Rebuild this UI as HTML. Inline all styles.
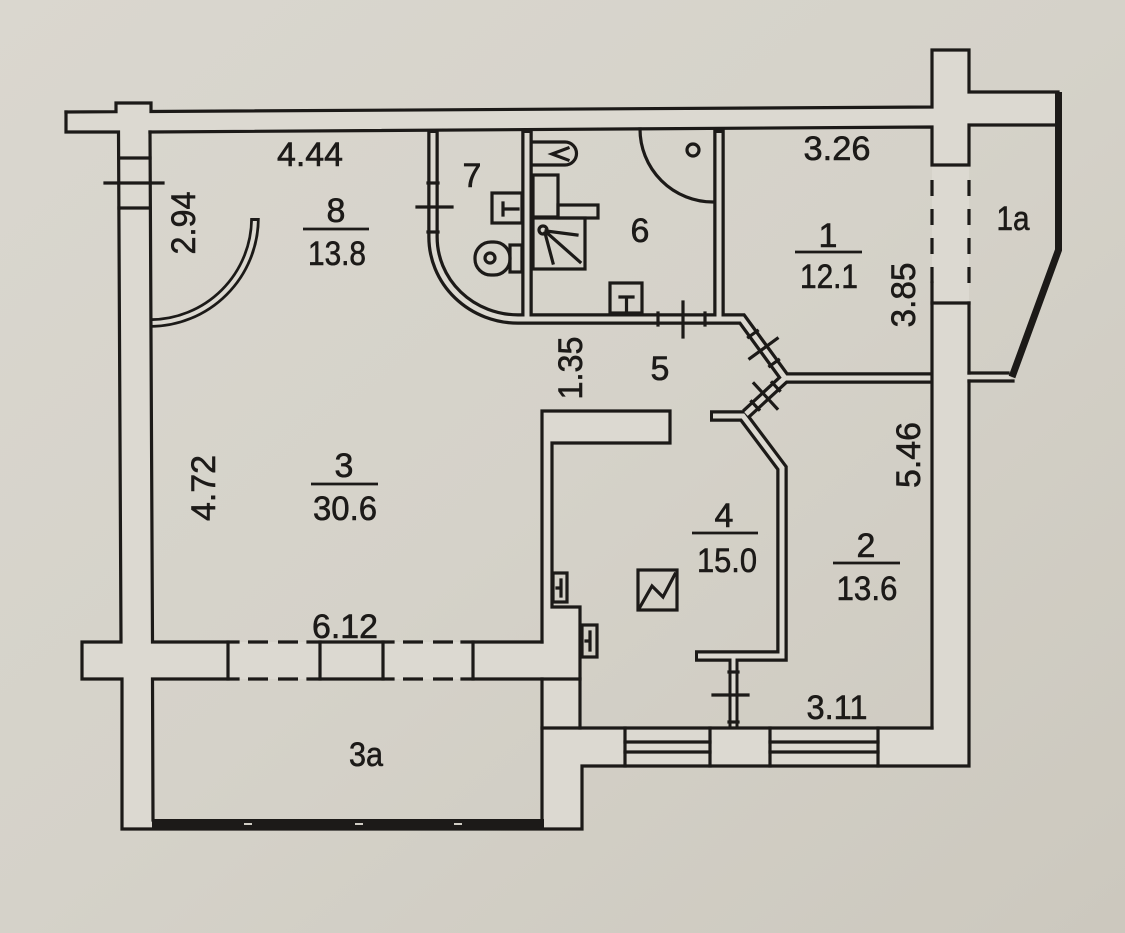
<!DOCTYPE html>
<html><head><meta charset="utf-8">
<style>
html,body{margin:0;padding:0;width:1125px;height:933px;overflow:hidden;background:#d5d2c9}
svg{display:block}
text{font-family:"Liberation Sans",Arial,sans-serif;fill:#1c1a18;font-size:34px;stroke:#1c1a18;stroke-width:0.6}
</style></head><body>
<svg width="1125" height="933" viewBox="0 0 1125 933" xmlns="http://www.w3.org/2000/svg">
<defs>
<linearGradient id="bg" x1="0" y1="0" x2="1" y2="1">
<stop offset="0" stop-color="#dad7cf"/>
<stop offset="0.5" stop-color="#d5d2c9"/>
<stop offset="1" stop-color="#ccc8be"/>
</linearGradient>
</defs>
<rect width="1125" height="933" fill="url(#bg)"/>

<!-- wall fills -->
<g fill="#dcd9d1">
<polygon points="66,112 932,107 932,127 150,132 66,132"/>
<rect x="116" y="103" width="35" height="10"/>
<polygon points="118.5,132 150,132 153,829 122,829"/>
<rect x="82" y="642" width="40" height="37"/>
<rect x="152" y="642" width="428" height="37"/>
<rect x="542" y="411" width="128" height="32"/>
<rect x="542" y="443" width="10" height="164"/>
<rect x="542" y="607" width="38" height="121"/>
<rect x="542" y="679" width="40" height="150"/>
<rect x="580" y="728" width="389" height="38"/>
<rect x="932" y="50" width="37" height="716"/>
<rect x="969" y="92" width="93" height="33"/>
<rect x="969" y="373" width="42" height="8"/>
</g>

<!-- thin wall bands: black -->
<g fill="none" stroke="#1c1a18" stroke-linejoin="miter" stroke-linecap="butt">
<path d="M433,129 V237 A85,82 0 0 0 518,319 H742 L785,378 H933" stroke-width="11.5"/>
<path d="M527,129 V319" stroke-width="11.5"/>
<path d="M719,129 V319" stroke-width="11.5"/>
<path d="M785,378 L746,414" stroke-width="11.5"/>
<path d="M710,416 H743 L782,468 V656 H695" stroke-width="11.5"/>
<path d="M733.5,656 V728" stroke-width="10"/>
<path d="M150,323 A105,105 0 0 0 255,218" stroke-width="9.5"/>
</g>
<!-- thin wall bands: light interior -->
<g fill="none" stroke="#dcd9d1" stroke-linejoin="miter" stroke-linecap="butt">
<path d="M433,133 V237 A85,82 0 0 0 518,319 H742 L785,378 H930.5" stroke-width="5"/>
<path d="M527,133 V319" stroke-width="5"/>
<path d="M719,133 V319" stroke-width="5"/>
<path d="M785,378 L746,414" stroke-width="5"/>
<path d="M713,416 H743 L782,468 V656 H698" stroke-width="5"/>
<path d="M733.5,656 V726.5" stroke-width="4"/>
<path d="M152.5,323 A105,105 0 0 0 254.9,221" stroke-width="4"/>
</g>

<!-- main lines -->
<g fill="none" stroke="#1c1a18" stroke-width="3.2" stroke-linejoin="miter" stroke-linecap="square">
<polyline points="66,112 116,111.7 116,103 151,103 151,111.5 932,107 932,50 969,50 969,92 1058,92"/>
<polyline points="66,112 66,132 118.5,132 121,642 82,642 82,679 122,679 122,829 582,829 582,766 969,766 969,381"/>
<polyline points="150,132 932,127 932,165 969,165 969,125 1055,125"/>
<line x1="932" y1="283" x2="932" y2="728"/>
<line x1="932" y1="303" x2="969" y2="303"/>
<line x1="969" y1="303" x2="969" y2="373"/>
<line x1="969" y1="373" x2="1008" y2="373"/>
<line x1="969" y1="381" x2="1013" y2="381"/>

<!-- left wall entrance -->
<line x1="119" y1="158" x2="150" y2="158"/>
<line x1="119" y1="208" x2="150" y2="208"/>
<line x1="105" y1="183" x2="163" y2="183"/>

<!-- 3 / 3a wall -->
<polyline points="150,132 152.5,642 238,642"/>
<polyline points="238,679 152.5,679 153,820"/>
<line x1="228" y1="642" x2="228" y2="679"/>
<line x1="320" y1="642" x2="320" y2="679"/>
<line x1="383" y1="642" x2="383" y2="679"/>
<line x1="473" y1="642" x2="473" y2="679"/>
<path d="M308,642H393M308,679H393M462,642H542M462,679H580"/>

<!-- pillar / kitchen partition -->
<polyline points="542,642 542,411 670,411 670,443 552,443 552,607 580,607 580,728"/>
<line x1="542" y1="679" x2="542" y2="820"/>
<line x1="542" y1="728" x2="932" y2="728"/>

<!-- windows bottom -->
<line x1="625" y1="728" x2="625" y2="766"/>
<line x1="710" y1="728" x2="710" y2="766"/>
<line x1="770" y1="728" x2="770" y2="766"/>
<line x1="878" y1="728" x2="878" y2="766"/>
<path d="M625,742H710M625,752H710M770,742H878M770,752H878"/>

<!-- door ticks -->
<line x1="428" y1="183" x2="438" y2="183"/>
<line x1="428" y1="232" x2="438" y2="232"/>
<line x1="417" y1="207" x2="452" y2="207"/>
<line x1="658" y1="313" x2="658" y2="325"/>
<line x1="705" y1="313" x2="705" y2="325"/>
<line x1="683" y1="302" x2="683" y2="337"/>
<line x1="757.3" y1="330.8" x2="748.5" y2="337.2"/>
<line x1="778.5" y1="359.8" x2="769.7" y2="366.2"/>
<line x1="777.2" y1="338.5" x2="749.8" y2="358.5"/>
<line x1="758.9" y1="409.5" x2="751.5" y2="401.5"/>
<line x1="779.5" y1="390.5" x2="772.1" y2="382.5"/>
<line x1="777" y1="408.5" x2="754" y2="383.5"/>
<line x1="729" y1="722" x2="738" y2="722"/>
<line x1="729" y1="672" x2="738" y2="672"/>
<line x1="713" y1="695" x2="748" y2="695"/>

<!-- bathroom fixtures room 7 -->
<rect x="492" y="193" width="30" height="30"/>
<path d="M503,203V215M503,209H518"/>
<rect x="510" y="245" width="12" height="27"/>
<rect x="475" y="242" width="35" height="33" rx="16" ry="16"/>
<circle cx="490" cy="258" r="5"/>

<!-- bathroom fixtures room 6 -->
<path d="M533,142 H565 A11.5,11.5 0 0 1 565,165 H533"/>
<polyline points="568,148 552,154 568,160"/>
<rect x="533" y="175" width="25" height="42"/>
<rect x="558" y="205" width="40" height="13"/>
<rect x="533" y="218" width="52" height="51"/>
<circle cx="543" cy="230" r="4"/>
<path d="M546,231L577,235M545,233L553,263M546,232L580,262"/>
<rect x="610" y="283" width="32" height="30"/>
<path d="M620,297H633M626.5,297V312"/>
<path d="M640,129 A73,73 0 0 0 713,202"/>
<circle cx="693" cy="150" r="6"/>

<!-- kitchen small boxes -->
<rect x="553" y="573" width="14" height="29"/>
<path d="M561,580V596M557,588H561"/>
<rect x="582" y="625" width="15" height="32"/>
<path d="M590,632V650M586,641H590"/>
<!-- meter icon -->
<rect x="638" y="570" width="39" height="40"/>
<polyline points="640,607 652,586 663,597 675,574"/>

<!-- fraction lines -->
<g stroke-width="2.8" stroke-linecap="butt">
<line x1="303" y1="229" x2="369" y2="229"/>
<line x1="795" y1="252" x2="862" y2="252"/>
<line x1="311" y1="484" x2="378" y2="484"/>
<line x1="692" y1="533" x2="758" y2="533"/>
<line x1="833" y1="563" x2="900" y2="563"/>
</g>
</g>

<!-- dashed lines -->
<g fill="none" stroke="#1c1a18" stroke-width="3.2" stroke-linecap="butt">
<line x1="932" y1="180" x2="932" y2="283" stroke-dasharray="16 13"/>
<line x1="969" y1="180" x2="969" y2="283" stroke-dasharray="16 13"/>
<path d="M248,642H268M278,642H298M403,642H423M433,642H453M248,679H268M278,679H298M403,679H423M433,679H453"/>
<polyline points="1058.5,92 1058.5,250 1012,377" stroke-width="7"/>
</g>

<!-- 3a bottom thick window -->
<rect x="152" y="819" width="392" height="10" fill="#1c1a18"/>
<g fill="#cfccc4">
<rect x="244" y="823" width="8" height="2"/>
<rect x="355" y="823" width="8" height="2"/>
<rect x="454" y="823" width="8" height="2"/>
</g>

<!-- labels -->
<g text-anchor="middle">
<text x="310" y="166" textLength="66" lengthAdjust="spacingAndGlyphs">4.44</text>
<text x="336" y="222">8</text>
<text x="337" y="265" textLength="58" lengthAdjust="spacingAndGlyphs">13.8</text>
<text x="472" y="187">7</text>
<text x="640" y="242">6</text>
<text x="837" y="160" textLength="67" lengthAdjust="spacingAndGlyphs">3.26</text>
<text x="828" y="247">1</text>
<text x="829" y="288" textLength="58" lengthAdjust="spacingAndGlyphs">12.1</text>
<text x="1013" y="230" textLength="33" lengthAdjust="spacingAndGlyphs">1a</text>
<text x="660" y="380">5</text>
<text x="344" y="477">3</text>
<text x="345" y="520" textLength="64" lengthAdjust="spacingAndGlyphs">30.6</text>
<text x="724" y="527">4</text>
<text x="727" y="572" textLength="60" lengthAdjust="spacingAndGlyphs">15.0</text>
<text x="866" y="557">2</text>
<text x="867" y="600" textLength="61" lengthAdjust="spacingAndGlyphs">13.6</text>
<text x="837" y="719" textLength="61" lengthAdjust="spacingAndGlyphs">3.11</text>
<text x="345" y="638" textLength="66" lengthAdjust="spacingAndGlyphs">6.12</text>
<text x="366" y="766" textLength="34" lengthAdjust="spacingAndGlyphs">3a</text>
<text transform="translate(183,223) rotate(-90)" x="0" y="12" textLength="63" lengthAdjust="spacingAndGlyphs">2.94</text>
<text transform="translate(203,488) rotate(-90)" x="0" y="12" textLength="66" lengthAdjust="spacingAndGlyphs">4.72</text>
<text transform="translate(570,368) rotate(-90)" x="0" y="12" textLength="63" lengthAdjust="spacingAndGlyphs">1.35</text>
<text transform="translate(903,295) rotate(-90)" x="0" y="12" textLength="65" lengthAdjust="spacingAndGlyphs">3.85</text>
<text transform="translate(908,455) rotate(-90)" x="0" y="12" textLength="66" lengthAdjust="spacingAndGlyphs">5.46</text>
</g>
</svg>
</body></html>
